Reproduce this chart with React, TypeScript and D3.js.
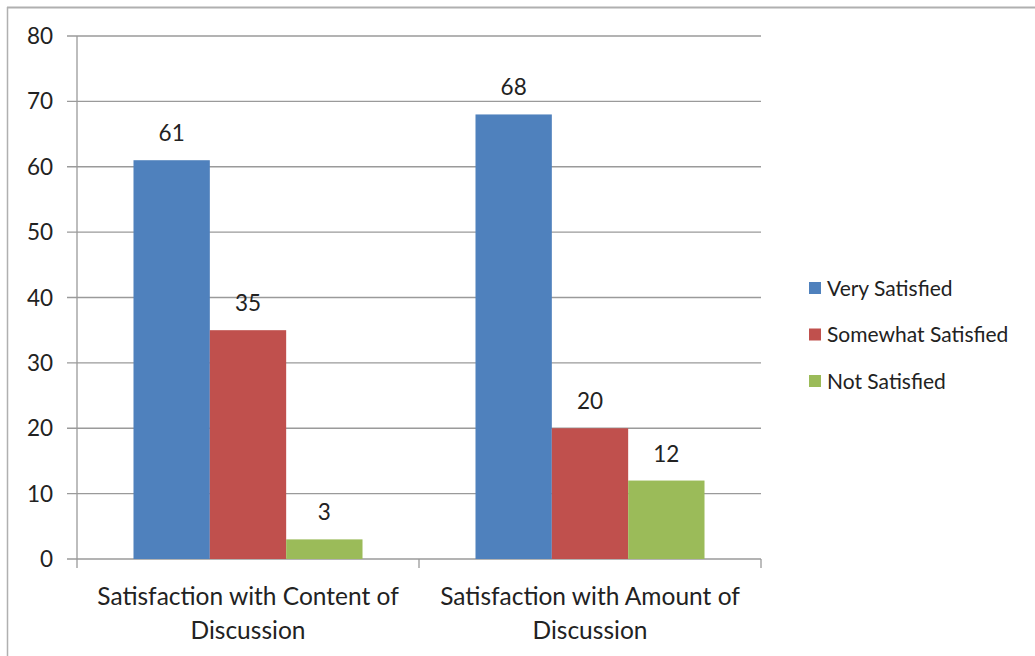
import React from "react";
import * as d3 from "d3";

const categories = [
  ["Satisfaction with Content of", "Discussion"],
  ["Satisfaction with Amount of", "Discussion"],
];
const seriesNames = ["Very Satisfied", "Somewhat Satisfied", "Not Satisfied"];
const veryValues = [61, 68];
const somewhatValues = [35, 20];
const notValues = [3, 12];
const seriesValues = [veryValues, somewhatValues, notValues];
const colors = ["#4f81bd", "#c0504d", "#9bbb59"];
const yTicks = [0, 10, 20, 30, 40, 50, 60, 70, 80];

const W = 1035;
const H = 656;
const FONT = "Lato, 'Liberation Sans', sans-serif";

export default function App() {
  const left = 77, right = 761, top = 36, bottom = 559;
  const x = d3.scaleBand<number>().domain([0, 1]).range([left, right]);
  const inner = d3
    .scaleBand<number>()
    .domain([0, 1, 2])
    .range([0, x.bandwidth()])
    .paddingOuter(0.74)
    .paddingInner(0);
  const y = d3.scaleLinear().domain([0, 80]).range([bottom, top]);

  return (
    <svg
      width={W}
      height={H}
      style={{ position: "absolute", left: 0, top: 0, background: "#fff" }}
    >
      <line x1={7} x2={W} y1={7.5} y2={7.5} stroke="#b0b0b0" strokeWidth={2} />
      <line x1={7.5} x2={7.5} y1={7} y2={H} stroke="#b0b0b0" strokeWidth={1.5} />
      {yTicks.map((t) => (
        <g key={t}>
          <line
            x1={left - 10}
            x2={right}
            y1={y(t)}
            y2={y(t)}
            stroke="#9a9a9a"
            strokeWidth={1.3}
          />
          <text
            x={53}
            y={y(t)}
            dy="0.36em"
            textAnchor="end"
            fontFamily={FONT}
            fontSize={22.5}
            fill="#222"
          >
            {t}
          </text>
        </g>
      ))}
      <line x1={left} x2={left} y1={top} y2={bottom + 9} stroke="#9a9a9a" strokeWidth={1.3} />
      {[0, 1].map((i) => (
        <line
          key={i}
          x1={(x(i) as number) + x.bandwidth()}
          x2={(x(i) as number) + x.bandwidth()}
          y1={bottom}
          y2={bottom + 9}
          stroke="#9a9a9a"
          strokeWidth={1.3}
        />
      ))}
      {categories.map((cat, ci) =>
        seriesValues.map((vals, si) => {
          const bx = (x(ci) as number) + (inner(si) as number);
          const v = vals[ci];
          return (
            <g key={`${ci}-${si}`}>
              <rect
                x={bx}
                y={y(v)}
                width={inner.bandwidth()}
                height={bottom - y(v)}
                fill={colors[si]}
              />
              <text
                x={bx + inner.bandwidth() / 2}
                y={y(v) - 19}
                textAnchor="middle"
                fontFamily={FONT}
                fontSize={22.5}
                fill="#222"
              >
                {v}
              </text>
            </g>
          );
        })
      )}
      {categories.map((lines, ci) => (
        <text
          key={ci}
          x={(x(ci) as number) + x.bandwidth() / 2}
          y={605}
          textAnchor="middle"
          fontFamily={FONT}
          fontSize={24.5}
          fill="#222"
        >
          {lines.map((l, li) => (
            <tspan key={li} x={(x(ci) as number) + x.bandwidth() / 2} dy={li === 0 ? 0 : 34}>
              {l}
            </tspan>
          ))}
        </text>
      ))}
      {seriesNames.map((name, si) => (
        <g key={name} transform={`translate(809, ${288 + si * 46.5})`}>
          <rect x={0} y={-6} width={12} height={12} fill={colors[si]} />
          <text x={18} y={0} dy="0.36em" fontFamily={FONT} fontSize={21} fill="#222">
            {name}
          </text>
        </g>
      ))}
    </svg>
  );
}
